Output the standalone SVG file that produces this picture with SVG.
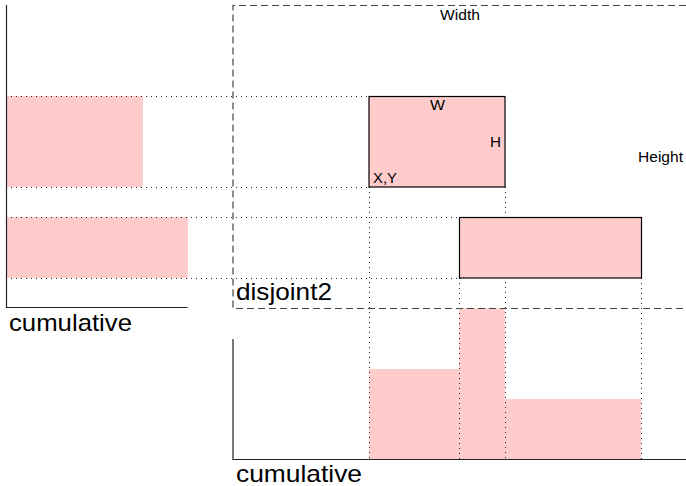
<svg xmlns="http://www.w3.org/2000/svg" width="686" height="486" viewBox="0 0 686 486">
<style>
.bar{fill:#ffcccc;stroke:none}
.box{fill:#ffcccc;stroke:#000;stroke-width:1.2}
.axis{fill:none;stroke:#222;stroke-width:1.2}
.dash{fill:none;stroke:#444;stroke-width:1.2;stroke-dasharray:7,4}
.dot{fill:none;stroke:#222;stroke-width:1;stroke-dasharray:1,4}
.s{font-family:"Liberation Sans",Arial,sans-serif;font-size:15px;fill:#000}
.b{font-family:"Liberation Sans",Arial,sans-serif;font-size:24px;fill:#000}
</style>
<rect width="686" height="486" fill="#fff"/>
<g id="left-cumulative">
<rect class="bar" x="6" y="96" width="137" height="91"/>
<rect class="bar" x="6" y="217" width="182" height="61"/>
<path class="axis" d="M6.5,5 V307.5 H187.5"/>
<text class="b" x="9" y="331" textLength="123" lengthAdjust="spacingAndGlyphs">cumulative</text>
</g>
<g id="bottom-cumulative">
<rect class="bar" x="369" y="369" width="90" height="90"/>
<rect class="bar" x="459" y="308" width="46" height="151"/>
<rect class="bar" x="505" y="399" width="136" height="60"/>
<path class="axis" d="M233,339 V459.5 H686"/>
<text class="b" x="236" y="482" textLength="126" lengthAdjust="spacingAndGlyphs">cumulative</text>
</g>
<g id="connectors">
<path class="dot" d="M6,96.5 H369 M6,187.5 H369 M6,217.5 H459 M6,278.5 H459"/>
<path class="dot" d="M369.5,187 V459 M505.5,187 V459 M459.5,278 V459 M641.5,278 V459"/>
</g>
<g id="disjoint2">
<path class="dash" d="M686,5.5 H233 V308.5 H686"/>
<text class="b" x="236" y="300" textLength="96" lengthAdjust="spacingAndGlyphs">disjoint2</text>
<text class="s" x="440" y="20" textLength="40" lengthAdjust="spacingAndGlyphs">Width</text>
<text class="s" x="638" y="162" textLength="45" lengthAdjust="spacingAndGlyphs">Height</text>
</g>
<g id="box1">
<rect class="box" x="369" y="96.5" width="136" height="90.5"/>
<text class="s" x="430" y="110" textLength="15" lengthAdjust="spacingAndGlyphs">W</text>
<text class="s" x="490" y="147" textLength="11" lengthAdjust="spacingAndGlyphs">H</text>
<text class="s" x="373" y="183" textLength="24" lengthAdjust="spacingAndGlyphs">X,Y</text>
</g>
<g id="box2">
<rect class="box" x="459.5" y="217.5" width="182" height="60.5"/>
</g>
</svg>
